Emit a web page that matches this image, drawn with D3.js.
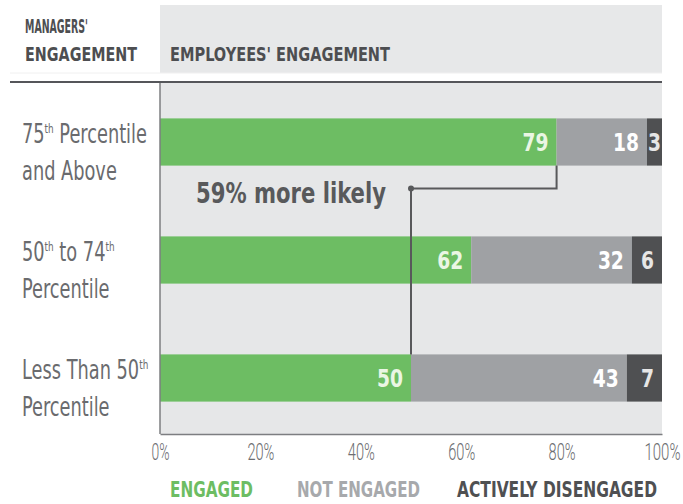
<!DOCTYPE html>
<html>
<head>
<meta charset="utf-8">
<script src="https://cdn.jsdelivr.net/npm/d3@7"></script>
<style>
  body { margin: 0; background: #fff; }
  svg { display: block; }
  text { font-family: "Liberation Sans Narrow", "DejaVu Sans Condensed", "Liberation Sans", sans-serif; }
</style>
</head>
<body>
<div id="container"></div>
<script>
// data
var categories = ["75th Percentile and Above", "50th to 74th Percentile", "Less Than 50th Percentile"];
// label lines, each piece is [text, superscript?]
var categoryLines = [
    [[["75", false], ["th", true], [" Percentile", false]], [["and Above", false]]],
    [[["50", false], ["th", true], [" to 74", false], ["th", true]], [["Percentile", false]]],
    [[["Less Than 50", false], ["th", true]], [["Percentile", false]]]
];
var engaged = [79, 62, 50];
var notEngaged = [18, 32, 43];
var activelyDisengaged = [3, 6, 7];
var seriesNames = ["ENGAGED", "NOT ENGAGED", "ACTIVELY DISENGAGED"];
var seriesColors = ["#6dbd63", "#9fa1a4", "#4f5052"];
var legendColors = ["#6dbd63", "#a7a9ac", "#4f5052"];
var xTicks = [0, 20, 40, 60, 80, 100];
var annotation = "59% more likely";

var W = 683, H = 504;
var svg = d3.select("#container").append("svg")
    .attr("width", W)
    .attr("height", H);

var plot = { left: 160, right: 662, top: 83, bottom: 434 };

var x = d3.scaleLinear().domain([0, 100]).range([plot.left, plot.right]);
var y = d3.scaleBand().domain(categories).range([plot.top, 437])
    .paddingInner(0.6).paddingOuter(0.3);

// header background + panel
svg.append("rect").attr("x", plot.left).attr("y", 5)
    .attr("width", plot.right - plot.left).attr("height", 68)
    .attr("fill", "#e7e8e9");
svg.append("rect").attr("x", plot.left).attr("y", plot.top)
    .attr("width", plot.right - plot.left).attr("height", plot.bottom - plot.top)
    .attr("fill", "#e6e7e8");
svg.append("line").attr("x1", 10).attr("x2", plot.right).attr("y1", 73).attr("y2", 73)
    .attr("stroke", "#f0f0f0").attr("stroke-width", 1);
svg.append("line").attr("x1", 10).attr("x2", plot.right).attr("y1", 82).attr("y2", 82)
    .attr("stroke", "#55565a").attr("stroke-width", 2);

// header texts
var hdr = svg.append("g").attr("fill", "#4d4e51").attr("font-weight", "bold").attr("font-size", 20);
hdr.append("text").attr("x", 25).attr("y", 33).attr("textLength", 63)
    .attr("lengthAdjust", "spacingAndGlyphs").text("MANAGERS'");
hdr.append("text").attr("x", 25).attr("y", 61).attr("textLength", 112)
    .attr("lengthAdjust", "spacingAndGlyphs").text("ENGAGEMENT");
hdr.append("text").attr("x", 170).attr("y", 61).attr("textLength", 220)
    .attr("lengthAdjust", "spacingAndGlyphs").text("EMPLOYEES' ENGAGEMENT");

// stacked data
var rows = categories.map((c, i) => ({ cat: c, values: [engaged[i], notEngaged[i], activelyDisengaged[i]] }));
rows.forEach(r => {
    var acc = 0;
    r.segs = r.values.map((v, k) => { var s = { k: k, v: v, x0: acc, x1: acc + v, cat: r.cat }; acc += v; return s; });
});

var bars = svg.append("g");
var seg = bars.selectAll("g.row").data(rows).enter().append("g").attr("class", "row")
    .selectAll("rect").data(d => d.segs).enter();

seg.append("rect")
    .attr("x", d => x(d.x0))
    .attr("y", d => y(d.cat))
    .attr("width", d => x(d.x1) - x(d.x0))
    .attr("height", y.bandwidth())
    .attr("fill", d => seriesColors[d.k]);

// connector annotation: from top bar engaged end to bottom bar engaged end
var yMid = y(categories[0]) + y.bandwidth() + 23;
var conn = svg.append("g").attr("stroke", "#58595b").attr("stroke-width", 2).attr("fill", "none");
conn.append("path")
    .attr("d", `M${x(engaged[0])},${y(categories[0]) + y.bandwidth()} V${yMid} H${x(engaged[2])} V${y(categories[2])}`);
svg.append("circle").attr("cx", x(engaged[2])).attr("cy", yMid).attr("r", 3).attr("fill", "#58595b");
svg.append("text").attr("x", 196).attr("y", yMid + 14)
    .attr("font-size", 28).attr("font-weight", "bold").attr("fill", "#58595b")
    .attr("textLength", 190).attr("lengthAdjust", "spacingAndGlyphs")
    .text(annotation);

// value labels
var labelColors = ["#eaf6e4", "#ffffff", "#e6e6e6"];
svg.append("g").selectAll("g").data(rows).enter().append("g")
    .selectAll("text").data(d => d.segs).enter().append("text")
    .attr("x", d => (x(d.x1) - x(d.x0)) < 30 ? (x(d.x0) + x(d.x1)) / 2 : x(d.x1) - 8)
    .attr("y", d => y(d.cat) + y.bandwidth() / 2 + 9)
    .attr("text-anchor", d => (x(d.x1) - x(d.x0)) < 30 ? "middle" : "end")
    .attr("font-size", 25).attr("font-weight", "bold")
    .attr("fill", d => labelColors[d.k])
    .attr("textLength", d => String(d.v).length * 13).attr("lengthAdjust", "spacingAndGlyphs")
    .text(d => d.v);

// category labels (condensed by horizontal scale)
var catG = svg.append("g").attr("fill", "#6a6b6e").attr("font-size", 26)
    .style("font-family", "Roboto, \"DejaVu Sans\", sans-serif").attr("font-weight", 300);
categories.forEach((c, i) => {
    var cy = y(c) + y.bandwidth() / 2;
    categoryLines[i].forEach((line, j) => {
        var t = catG.append("text")
            .attr("transform", `translate(22,${cy + (j === 0 ? 1 : 38)}) scale(0.76,1)`);
        var shift = 0;
        line.forEach(p => {
            var target = p[1] ? -10 : 0;
            t.append("tspan").text(p[0])
                .attr("font-size", p[1] ? 13 : null)
                .attr("dy", target - shift);
            shift = target;
        });
    });
});

// axes
svg.append("line").attr("x1", plot.left).attr("x2", plot.left).attr("y1", plot.top).attr("y2", plot.bottom)
    .attr("stroke", "#7d7e81").attr("stroke-width", 1.5);
var xAxis = svg.append("g").attr("transform", `translate(0,${plot.bottom})`)
    .call(d3.axisBottom(x).tickValues(xTicks).tickSize(0).tickFormat(d => d + "%"));
xAxis.select(".domain").attr("stroke", "#7d7e81").attr("stroke-width", 1.5);
xAxis.selectAll("text").attr("font-size", 23).attr("fill", "#6d6e71")
    .attr("dy", 0).attr("y", 26)
    .attr("textLength", d => (d + "%").length * 9).attr("lengthAdjust", "spacingAndGlyphs")
    .style("font-family", "Roboto, \"DejaVu Sans\", sans-serif").attr("font-weight", 300);

// legend
var legendX = [170, 297, 457];
var legendW = [83, 123, 200];
svg.append("g").selectAll("text").data(seriesNames).enter().append("text")
    .attr("x", (d, i) => legendX[i]).attr("y", 497)
    .attr("font-size", 22).attr("font-weight", "bold")
    .attr("fill", (d, i) => legendColors[i])
    .attr("textLength", (d, i) => legendW[i]).attr("lengthAdjust", "spacingAndGlyphs")
    .text(d => d);
</script>
</body>
</html>
